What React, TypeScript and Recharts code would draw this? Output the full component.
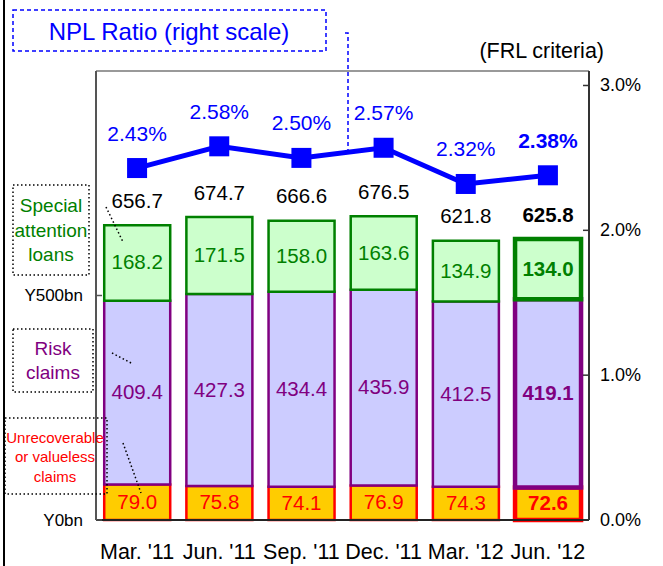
import React from "react";
import {
  ComposedChart,
  Bar,
  Line,
  XAxis,
  YAxis,
  Cell,
  LabelList,
  ReferenceLine,
} from "recharts";

const categories = ["Mar. '11", "Jun. '11", "Sep. '11", "Dec. '11", "Mar. '12", "Jun. '12"];
const unrecoverable = [79.0, 75.8, 74.1, 76.9, 74.3, 72.6];
const risk = [409.4, 427.3, 434.4, 435.9, 412.5, 419.1];
const special = [168.2, 171.5, 158.0, 163.6, 134.9, 134.0];
const totals = [656.7, 674.7, 666.6, 676.5, 621.8, 625.8];
const npl = [2.43, 2.58, 2.5, 2.57, 2.32, 2.38];

const leftTicks = [0, 500];
const leftTickLabels = ["Y0bn", "Y500bn"];
const rightTicks = [0, 1, 2, 3];
const rightTickLabels = ["0.0%", "1.0%", "2.0%", "3.0%"];
const boundaryTicks = [1, 2, 3, 4, 5];

const data = categories.map((c, i) => ({
  cat: c,
  unrec: unrecoverable[i],
  risk: risk[i],
  special: special[i],
  total: totals[i],
  npl: npl[i],
}));

const FONT = "'Liberation Sans', Arial, sans-serif";
const LAST = categories.length - 1;

const GREEN = "#008000";
const PURPLE = "#800080";
const RED = "#FF0000";
const BLUE = "#0000FF";

const LeftTick = (p: any) => {
  const { x, y, payload } = p;
  const idx = leftTicks.indexOf(payload.value);
  return (
    <g>
      <line x1={x} x2={x + 6} y1={y} y2={y} stroke="#555" strokeWidth={1.5} />
      <text x={x - 13} y={y} textAnchor="end" dominantBaseline="central" fontSize={17} fontFamily={FONT} fill="#000">
        {leftTickLabels[idx]}
      </text>
    </g>
  );
};

const RightTick = (p: any) => {
  const { x, y, payload } = p;
  const idx = rightTicks.indexOf(payload.value);
  return (
    <g>
      <line x1={x} x2={x - 6} y1={y} y2={y} stroke="#333" strokeWidth={1.5} />
      <text x={x + 11} y={y} textAnchor="start" dominantBaseline="central" fontSize={18} fontFamily={FONT} fill="#000">
        {rightTickLabels[idx]}
      </text>
    </g>
  );
};

const CatTick = (p: any) => {
  const { x, y, payload } = p;
  return (
    <text x={x} y={y + 32} textAnchor="middle" dominantBaseline="central" fontSize={21.5} fontFamily={FONT} fill="#000">
      {payload.value}
    </text>
  );
};

const EdgeTick = (p: any) => {
  const { x, y } = p;
  return <line x1={x} x2={x} y1={y} y2={y - 6} stroke="#333" strokeWidth={1.5} />;
};

const segLabel = (color: string) => (p: any) => {
  const { x, y, width, height, value, index } = p;
  return (
    <text
      x={x + width / 2}
      y={y + height / 2 - 1}
      textAnchor="middle"
      dominantBaseline="central"
      fontSize={20.5}
      fontFamily={FONT}
      fontWeight={index === LAST ? "bold" : "normal"}
      fill={color}
    >
      {Number(value).toFixed(1)}
    </text>
  );
};

const totalLabel = (p: any) => {
  const { x, y, width, value, index } = p;
  return (
    <text
      x={x + width / 2}
      y={y - 25}
      textAnchor="middle"
      dominantBaseline="central"
      fontSize={20.5}
      fontFamily={FONT}
      fontWeight={index === LAST ? "bold" : "normal"}
      fill="#000"
    >
      {Number(value).toFixed(1)}
    </text>
  );
};

const nplLabel = (p: any) => {
  const { x, y, value, index } = p;
  return (
    <text
      x={x}
      y={y - 35}
      textAnchor="middle"
      dominantBaseline="central"
      fontSize={21}
      fontFamily={FONT}
      fontWeight={index === LAST ? "bold" : "normal"}
      fill={BLUE}
    >
      {Number(value).toFixed(2) + "%"}
    </text>
  );
};

const SquareDot = (p: any) => {
  const { cx, cy, index } = p;
  return <rect key={"d" + index} x={cx - 10} y={cy - 10} width={20} height={20} fill={BLUE} />;
};

const segCells = (fill: string, stroke: string) =>
  data.map((_, i) => (
    <Cell key={i} fill={fill} stroke={stroke} strokeWidth={i === LAST ? 4.5 : 2.5} />
  ));

export default function App() {
  return (
    <div style={{ position: "absolute", left: 0, top: 0, width: 663, height: 566, background: "#fff" }}>
      <ComposedChart
        width={663}
        height={566}
        data={data}
        margin={{ top: 71, right: 0, bottom: 0, left: 0 }}
        barCategoryGap="10%"
      >
        <XAxis
          xAxisId="edge"
          type="number"
          domain={[0, 6]}
          allowDataOverflow
          ticks={boundaryTicks}
          interval={0}
          height={0}
          axisLine={false}
          tickLine={false}
          tickSize={0}
          tickMargin={0}
          tick={<EdgeTick />}
        />
        <XAxis
          xAxisId="cat"
          dataKey="cat"
          height={46}
          axisLine={{ stroke: "#222", strokeWidth: 2 }}
          tickLine={false}
          tickSize={0}
          tickMargin={0}
          interval={0}
          tick={<CatTick />}
        />
        <YAxis
          yAxisId="left"
          orientation="left"
          width={96}
          domain={[0, 1000]}
          ticks={leftTicks}
          interval={0}
          axisLine={{ stroke: "#555", strokeWidth: 2 }}
          tickLine={false}
          tickSize={0}
          tickMargin={0}
          tick={<LeftTick />}
        />
        <YAxis
          yAxisId="right"
          orientation="right"
          width={74}
          domain={[0, 3.1]}
          ticks={rightTicks}
          interval={0}
          axisLine={{ stroke: "#333", strokeWidth: 2 }}
          tickLine={false}
          tickSize={0}
          tickMargin={0}
          tick={<RightTick />}
        />
        <ReferenceLine yAxisId="left" xAxisId="cat" y={1000} stroke="#999" strokeWidth={2} ifOverflow="visible" />
        <Bar dataKey="unrec" stackId="s" xAxisId="cat" yAxisId="left" isAnimationActive={false}>
          {segCells("#FFCC00", RED)}
          <LabelList dataKey="unrec" content={segLabel(RED)} />
        </Bar>
        <Bar dataKey="risk" stackId="s" xAxisId="cat" yAxisId="left" isAnimationActive={false}>
          {segCells("#CCCCFF", PURPLE)}
          <LabelList dataKey="risk" content={segLabel(PURPLE)} />
        </Bar>
        <Bar dataKey="special" stackId="s" xAxisId="cat" yAxisId="left" isAnimationActive={false}>
          {segCells("#CCFFCC", GREEN)}
          <LabelList dataKey="special" content={segLabel(GREEN)} />
          <LabelList dataKey="total" content={totalLabel} />
        </Bar>
        <Line
          dataKey="npl"
          xAxisId="cat"
          yAxisId="right"
          stroke={BLUE}
          strokeWidth={5}
          dot={SquareDot}
          activeDot={false}
          isAnimationActive={false}
        >
          <LabelList dataKey="npl" content={nplLabel} />
        </Line>
      </ComposedChart>
      <svg
        width={663}
        height={566}
        style={{ position: "absolute", left: 0, top: 0, pointerEvents: "none" }}
      >
        <line x1={4} x2={4} y1={0} y2={566} stroke="#000" strokeWidth={2} />
        <rect x={13} y={10} width={313} height={41} fill="none" stroke={BLUE} strokeWidth={1.5} strokeDasharray="4 3" />
        <text x={169} y={31} textAnchor="middle" dominantBaseline="central" fontSize={24} fontFamily={FONT} fill={BLUE}>
          NPL Ratio (right scale)
        </text>
        <polyline points="345,33 348,33 348,150" fill="none" stroke={BLUE} strokeWidth={1.5} strokeDasharray="4 3" />
        <text x={604} y={51} textAnchor="end" dominantBaseline="central" fontSize={21.5} fontFamily={FONT} fill="#000">
          (FRL criteria)
        </text>

        <rect x={13} y={185} width={76} height={90} fill="none" stroke="#000" strokeWidth={1.5} strokeDasharray="1.5 2.5" />
        <g fontSize={19} fontFamily={FONT} fill={GREEN} textAnchor="middle">
          <text x={51} y={205} dominantBaseline="central">Special</text>
          <text x={51} y={230} dominantBaseline="central">attention</text>
          <text x={51} y={254} dominantBaseline="central">loans</text>
        </g>
        <line x1={106} y1={207} x2={123} y2={242} stroke="#000" strokeWidth={1.5} strokeDasharray="1.5 2.5" />

        <rect x={13} y={329} width={80} height={63} fill="none" stroke="#000" strokeWidth={1.5} strokeDasharray="1.5 2.5" />
        <g fontSize={19} fontFamily={FONT} fill={PURPLE} textAnchor="middle">
          <text x={53} y={348} dominantBaseline="central">Risk</text>
          <text x={53} y={372} dominantBaseline="central">claims</text>
        </g>
        <line x1={112} y1={353} x2={133} y2={364} stroke="#000" strokeWidth={1.5} strokeDasharray="1.5 2.5" />

        <rect x={5} y={418} width={102} height={76} fill="none" stroke="#000" strokeWidth={1.5} strokeDasharray="1.5 2.5" />
        <g fontSize={15} fontFamily={FONT} fill={RED} textAnchor="middle">
          <text x={55} y={437} dominantBaseline="central">Unrecoverable</text>
          <text x={55} y={456} dominantBaseline="central">or valueless</text>
          <text x={55} y={476} dominantBaseline="central">claims</text>
        </g>
        <line x1={123} y1={443} x2={141} y2={493} stroke="#000" strokeWidth={1.5} strokeDasharray="1.5 2.5" />
      </svg>
    </div>
  );
}
